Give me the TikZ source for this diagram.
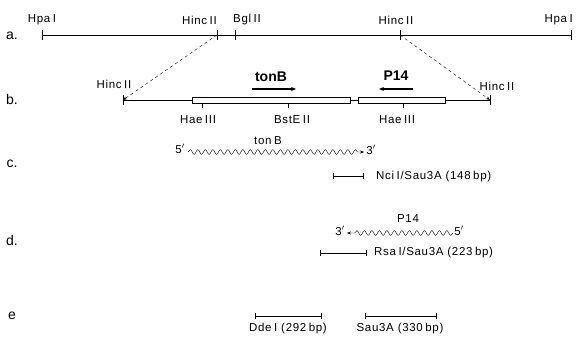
\documentclass[tikz,border=0pt]{standalone}
\usepackage{fontspec}
\setmainfont{Liberation Sans}
\newfontfamily\lblfont[LetterSpace=6]{Liberation Sans}
\newcommand{\gp}{\hspace{2.5pt}}
\usetikzlibrary{arrows.meta}
\usetikzlibrary{decorations.pathmorphing}
\tikzset{
  lbl/.style={font=\lblfont\fontsize{11.5}{12}\selectfont, inner sep=1pt},
  row/.style={font=\fontsize{14}{15}\selectfont, inner sep=0pt},
  gene/.style={font=\fontsize{14}{15}\selectfont\bfseries, inner sep=1pt},
  frag/.style={{Bar[width=6pt]}-{Bar[width=6pt]}, line width=0.7pt},
  mrna/.style={-{Stealth[length=4pt,width=3pt]}, decorate,
    decoration={snake, amplitude=2.4pt, segment length=7.5pt, post length=4pt}},
}
\begin{document}
\begin{tikzpicture}[x=1pt,y=-1pt]
\useasboundingbox (0,0) rectangle (577,339);
% row labels
\draw(12,36) node[row] (la) {a.};
\draw(12,99) node[row] (lb) {b.};
\draw(12,164) node[row] (lc) {c.};
\draw(12,240) node[row] (ld) {d.};
\draw(12,316) node[row] (le) {e};
% a: restriction map
\coordinate (hpa1) at (42,35);
\coordinate (hinc1) at (217,35);
\coordinate (bgl) at (235,35);
\coordinate (hinc2) at (400,35);
\coordinate (hpa2) at (571,35);
\draw[line width=0.7pt] (hpa1) -- (hpa2);
\foreach \p in {hpa1,hinc1,bgl,hinc2,hpa2}
  \draw[line width=0.7pt] ([yshift=-5pt]\p) -- ([yshift=5pt]\p);
\draw(42,20) node[lbl] (thpa1) {Hpa\gp I};
\draw(218,20) node[lbl,anchor=east] (thinc1) {Hinc\gp II};
\draw(232,20) node[lbl,anchor=west] (tbgl) {Bgl\gp II};
\draw(396,20) node[lbl] (thinc2) {Hinc\gp II};
\draw(574,20) node[lbl,anchor=east] (thpa2) {Hpa\gp I};
% b: expanded fragment
\coordinate (hincL) at (123,100);
\coordinate (hincR) at (490,100);
\draw (hincL) -- (hincR);
\foreach \p in {hincL,hincR}
  \draw ([yshift=-5pt]\p) -- ([yshift=5pt]\p);
\draw[fill=white] (192,97) rectangle (350,103);
\draw[fill=white] (358,97) rectangle (445,103);
\draw (202,103) -- (202,108);
\draw (288,103) -- (288,108);
\draw (403,103) -- (403,108);
\draw(114,84) node[lbl] (thincL) {Hinc\gp II};
\draw(497,86) node[lbl] (thincR) {Hinc\gp II};
\draw(198,120) node[lbl] (thae1) {Hae\gp III};
\draw(292,120) node[lbl] (tbst) {BstE\gp II};
\draw(397,120) node[lbl] (thae2) {Hae\gp III};
\draw[dashed,-{Stealth[length=4pt,width=3pt]}] (hinc1) -- (hincL);
\draw[dashed,-{Stealth[length=4pt,width=3pt]}] (hinc2) -- (hincR);
\coordinate (tonB1) at (252,89);
\coordinate (tonB2) at (296,89);
\draw[line width=1.3pt,-{Stealth[length=5pt,width=4pt]}] (tonB1) -- (tonB2);
\draw(271,77) node[gene] (ttonB) {tonB};
\coordinate (p14a) at (413,89);
\coordinate (p14b) at (379,89);
\draw[line width=1.3pt,-{Stealth[length=5pt,width=4pt]}] (p14a) -- (p14b);
\draw(396,76) node[gene] (tp14) {P14};
% c: tonB transcript
\draw(180,149) node[lbl] (c5) {5$'$};
\draw(371,150) node[lbl] (c3) {3$'$};
\draw[mrna] (188,152) coordinate (cs) -- (364,152) coordinate (ce);
\draw(268,141) node[lbl] (ctonB) {ton\gp B};
\coordinate (nci1) at (333,176);
\coordinate (nci2) at (364,176);
\draw[frag] (nci1) -- (nci2);
\draw(375,177) node[lbl,anchor=west] (tnci) {Nci\gp I/Sau3A (148\gp bp)};
% d: P14 transcript
\draw(340,231) node[lbl] (d3) {3$'$};
\draw(459,231) node[lbl] (d5) {5$'$};
\draw[mrna] (453,233) coordinate (ds) -- (347,233) coordinate (de);
\draw(408,219) node[lbl] (dp14) {P14};
\coordinate (rsa1) at (320,253);
\coordinate (rsa2) at (367,253);
\draw[frag] (rsa1) -- (rsa2);
\draw(373,253) node[lbl,anchor=west] (trsa) {Rsa\gp I/Sau3A (223\gp bp)};
% e: probe fragments
\coordinate (dde1) at (255,316);
\coordinate (dde2) at (322,316);
\draw[frag] (dde1) -- (dde2);
\draw(288,329) node[lbl] (tdde) {Dde\gp I (292\gp bp)};
\coordinate (sau1) at (365,316);
\coordinate (sau2) at (437,316);
\draw[frag] (sau1) -- (sau2);
\draw(400,329) node[lbl] (tsau) {Sau3A (330\gp bp)};
\end{tikzpicture}
\end{document}
